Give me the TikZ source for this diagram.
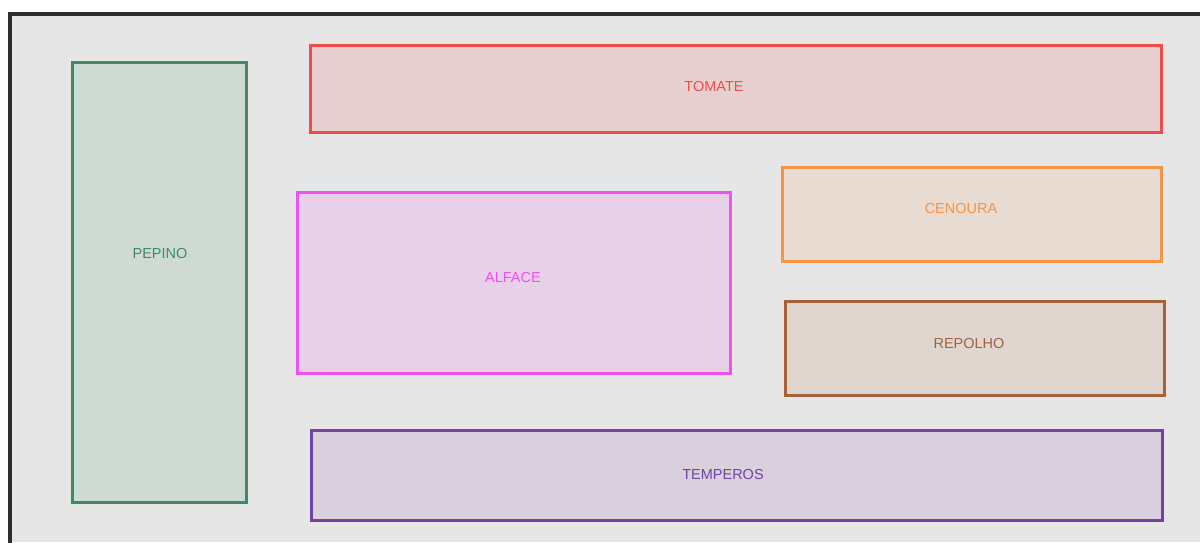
\documentclass[tikz,border=0pt]{standalone}
\usepackage{fontspec}
\setmainfont{Liberation Sans}
\definecolor{bg}{HTML}{E6E6E6}
\definecolor{frame}{HTML}{2E2E2E}
\definecolor{cgreen}{HTML}{3E8A62}
\definecolor{fgreen}{HTML}{D0DAD5}
\definecolor{cred}{HTML}{F04A4A}
\definecolor{fred}{HTML}{E8D0D0}
\definecolor{cmag}{HTML}{F050F0}
\definecolor{fmag}{HTML}{E8D0E8}
\definecolor{corange}{HTML}{F39447}
\definecolor{forange}{HTML}{E8DBD1}
\definecolor{cbrown}{HTML}{A4623A}
\definecolor{fbrown}{HTML}{E0D6D0}
\definecolor{cpurple}{HTML}{7242A2}
\definecolor{fpurple}{HTML}{D8D0DC}
\tikzset{
  bed/.style={line width=3pt},
  lbl/.style={font=\fontsize{14.5}{17}\selectfont, inner sep=0pt}
}
\begin{document}
\begin{tikzpicture}[x=1pt,y=-1pt]
\useasboundingbox (0,0) rectangle (1200,542);
\fill[white] (0,0) rectangle (1200,542);
\fill[bg] (10,14) rectangle (1200,542);
\draw[frame,line width=3.2pt] (10,545) -- (10,14) -- (1203,14);
% beds
\draw[bed,cgreen,fill=fgreen] (72,62) rectangle (246,502);
\node[lbl,text=cgreen] (pepino) at (160,254) {PEPINO};
\draw[bed,cred,fill=fred] (310,45) rectangle (1161,132);
\node[lbl,text=cred] (tomate) at (714,87) {TOMATE};
\draw[bed,cmag,fill=fmag] (297,192) rectangle (730,373);
\node[lbl,text=cmag] (alface) at (513,278) {ALFACE};
\draw[bed,corange,fill=forange] (782,167) rectangle (1161,261);
\node[lbl,text=corange] (cenoura) at (961,209) {CENOURA};
\draw[bed,cbrown,fill=fbrown] (785,301) rectangle (1164,395);
\node[lbl,text=cbrown] (repolho) at (969,344) {REPOLHO};
\draw[bed,cpurple,fill=fpurple] (311,430) rectangle (1162,520);
\node[lbl,text=cpurple] (temperos) at (723,474) {TEMPEROS};
\end{tikzpicture}
\end{document}
